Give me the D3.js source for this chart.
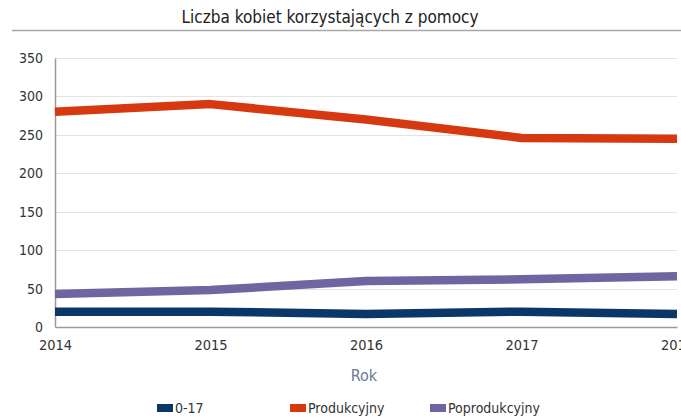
<!DOCTYPE html>
<html><head><meta charset="utf-8">
<script src="https://cdn.jsdelivr.net/npm/d3@7"></script>
<style>body{margin:0;background:#fff;}svg{display:block;font-family:"DejaVu Sans Condensed","DejaVu Sans",sans-serif;}</style>
</head><body>
<svg id="c" width="681" height="419"></svg>
<script>
const years = [2014, 2015, 2016, 2017, 2018];
const seriesNames = ["0-17", "Produkcyjny", "Poprodukcyjny"];
const s017 = [20, 20, 17, 20, 17];
const sProd = [280, 290, 270, 246, 245];
const sPoprod = [43, 48, 60, 62, 66];
const yTicks = [0, 50, 100, 150, 200, 250, 300, 350];
const colors = ["#0b3768", "#d6380f", "#6e66a0"];
const seriesVals = [s017, sProd, sPoprod];

const svg = d3.select("#c");
const m = {l:55};
const x = d3.scaleLinear().domain([2014, 2018]).range([m.l, 677]);
const y = d3.scaleLinear().domain([0, 350]).range([327, 58]);

svg.append("text").attr("x", 330).attr("y", 23).attr("text-anchor","middle")
  .attr("font-size", 17).attr("fill","#222").text("Liczba kobiet korzystających z pomocy");
svg.append("line").attr("x1", 12).attr("x2", 681).attr("y1", 30.5).attr("y2", 30.5)
  .attr("stroke","#a8a8a8").attr("stroke-width",1.5);

// grid
svg.append("g").selectAll("line").data(yTicks.filter(d=>d>0)).join("line")
  .attr("x1", m.l).attr("x2", 677).attr("y1", d=>Math.round(y(d))+0.5).attr("y2", d=>Math.round(y(d))+0.5)
  .attr("stroke","#e3e3e3").attr("stroke-width",1);

const yAxis = svg.append("g").attr("transform",`translate(${m.l},0)`)
  .call(d3.axisLeft(y).tickValues(yTicks).tickSize(0).tickPadding(12));
yAxis.select(".domain").attr("stroke","#9a9a9a").attr("stroke-width",1.5);
yAxis.selectAll("text").attr("font-size",14).attr("fill","#333").attr("font-family","DejaVu Sans Condensed");

const xAxis = svg.append("g").attr("transform",`translate(0,327)`)
  .call(d3.axisBottom(x).tickValues(years).tickFormat(d3.format("d")).tickSize(0).tickPadding(13));
xAxis.select(".domain").attr("stroke","#9a9a9a").attr("stroke-width",1.5);
xAxis.selectAll("text").attr("font-size",14.5).attr("fill","#333").attr("font-family","DejaVu Sans Condensed");

svg.append("text").attr("x", 364).attr("y", 381).attr("text-anchor","middle")
  .attr("font-size",16).attr("fill","#6a7a94").text("Rok");

const line = d3.line().x((d,i)=>x(years[i])).y(d=>y(d));
seriesVals.forEach((vals,i)=>{
  svg.append("path").datum(vals).attr("d", line).attr("fill","none")
    .attr("stroke", colors[i]).attr("stroke-width",8.5).attr("stroke-linejoin","round");
});

const legX = [157, 290, 430];
const leg = svg.append("g").selectAll("g").data(seriesNames).join("g")
  .attr("transform",(d,i)=>`translate(${legX[i]},408)`);
leg.append("rect").attr("x",0).attr("y",-4).attr("width",16).attr("height",8).attr("fill",(d,i)=>colors[i]);
leg.append("text").attr("x",18).attr("y",5).attr("font-size",14).attr("fill","#333").text(d=>d);
</script>
</body></html>
